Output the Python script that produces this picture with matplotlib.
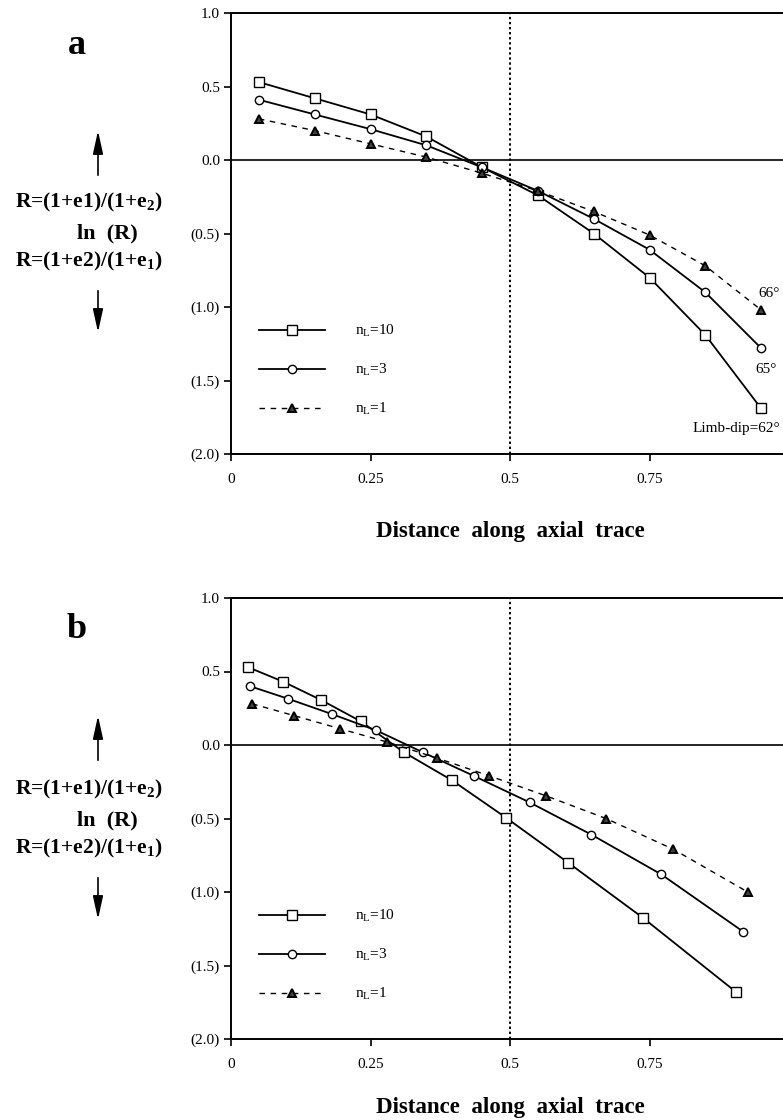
import matplotlib
matplotlib.use("Agg")
import matplotlib.pyplot as plt
from matplotlib.patches import FancyArrowPatch

plt.rcParams['font.family'] = ['Liberation Serif', 'DejaVu Serif']
plt.rcParams['mathtext.fontset'] = 'custom'
plt.rcParams['mathtext.rm'] = 'Liberation Serif'
plt.rcParams['mathtext.it'] = 'Liberation Serif:italic'
plt.rcParams['mathtext.bf'] = 'Liberation Serif:bold'

W, H = 783, 1120

# panel a: evenly spaced stations along the axial trace
dist_a = [0.05, 0.15, 0.25, 0.35, 0.45, 0.55, 0.65, 0.75, 0.85, 0.95]
a_n10 = [0.53, 0.42, 0.31, 0.16, -0.05, -0.24, -0.50, -0.80, -1.19, -1.69]
a_n3 = [0.41, 0.31, 0.21, 0.10, -0.05, -0.21, -0.40, -0.61, -0.90, -1.28]
a_n1 = [0.28, 0.20, 0.11, 0.02, -0.09, -0.21, -0.35, -0.51, -0.72, -1.02]

# panel b: same strains, stations displaced along the trace
b_x_n10 = [0.030, 0.094, 0.162, 0.233, 0.310, 0.396, 0.493, 0.604, 0.738, 0.905]
b_n10 = [0.53, 0.43, 0.305, 0.16, -0.05, -0.24, -0.495, -0.80, -1.175, -1.68]
b_x_n3 = [0.034, 0.102, 0.181, 0.260, 0.344, 0.435, 0.535, 0.646, 0.771, 0.918]
b_n3 = [0.40, 0.315, 0.21, 0.10, -0.05, -0.21, -0.39, -0.61, -0.88, -1.27]
b_x_n1 = [0.038, 0.113, 0.196, 0.280, 0.370, 0.463, 0.564, 0.672, 0.793, 0.926]
b_n1 = [0.28, 0.20, 0.11, 0.02, -0.09, -0.21, -0.345, -0.50, -0.71, -1.00]

series_labels = [r'n$_{\rm L}$=10', r'n$_{\rm L}$=3', r'n$_{\rm L}$=1']
dip_labels = ['66°', '65°', 'Limb-dip=62°']

yticks = [1.0, 0.5, 0.0, -0.5, -1.0, -1.5, -2.0]
ytick_labels = ['1.0', '0.5', '0.0', '(0.5)', '(1.0)', '(1.5)', '(2.0)']
xticks = [0, 0.25, 0.5, 0.75]
xtick_labels = ['0', '0.25', '0.5', '0.75']


def fx(px):
    return px / W


def fy(py):
    return 1 - py / H


def arrow(x, y0, y1):
    fig.add_artist(FancyArrowPatch((fx(x), fy(y0)), (fx(x), fy(y1)),
                                   transform=fig.transFigure,
                                   arrowstyle='-|>,head_length=1.0,head_width=0.22',
                                   mutation_scale=14, color='black', lw=1.2))


def panel(top, bottom, series, letter, dy, xlab_y):
    ax = fig.add_axes([fx(231), fy(bottom), 558 / W, (bottom - top) / H])
    styles = [dict(marker='s', ls='-', lw=1.3, ms=6.5, mfc='white'),
              dict(marker='o', ls='-', lw=1.3, ms=6, mfc='white'),
              dict(marker='^', ls='--', lw=1.0, ms=5.5, mew=1.4,
                   mfc='0.25', dashes=(4, 4))]
    lines = []
    for (xs, ys), st, lab in zip(series, styles, series_labels):
        ln, = ax.plot(xs, ys, color='black', mec='black', label=lab, **st)
        lines.append(ln)
    ax.axhline(0, color='black', lw=1.2, zorder=1)
    ax.axvline(0.5, color='black', lw=1.4, ls=(0, (1.2, 1.4)), zorder=1)
    ax.set_xlim(0, 1)
    ax.set_ylim(-2, 1)
    ax.set_yticks(yticks, ytick_labels)
    ax.set_xticks(xticks, xtick_labels)
    ax.tick_params(direction='out', length=5, width=1.2, labelsize=11,
                   pad=3)
    ax.tick_params(axis='x', pad=9)
    for s in ax.spines.values():
        s.set_linewidth(1.4)

    ax.legend(lines, series_labels, loc='center left',
              bbox_to_anchor=(fx(259), fy(top + 357)),
              bbox_transform=fig.transFigure, frameon=False,
              handlelength=4.3, handletextpad=2.0, labelspacing=1.5,
              borderpad=0, borderaxespad=0, fontsize=11, numpoints=1)

    fig.text(fx(77), fy(top + 32), letter, fontsize=26, fontweight='bold',
             ha='center', va='center')
    arrow(98, top + 165, top + 115)
    fig.text(fx(89), fy(top + 189 + dy), r'R=(1+e1)/(1+e$_{\mathbf{2}}$)',
             fontsize=15.5, fontweight='bold', ha='center', va='center')
    fig.text(fx(107), fy(top + 220 + dy), 'ln  (R)', fontsize=16,
             fontweight='bold', ha='center', va='center')
    fig.text(fx(89), fy(top + 248 + dy), r'R=(1+e2)/(1+e$_{\mathbf{1}}$)',
             fontsize=15.5, fontweight='bold', ha='center', va='center')
    arrow(98, top + 275 + dy, top + 322 + dy)

    fig.text(fx(510), fy(xlab_y), 'Distance  along  axial  trace',
             fontsize=16.5, fontweight='bold', ha='center', va='center')
    return ax


fig = plt.figure(figsize=(W / 100, H / 100), dpi=100)

ax_a = panel(13, 454, [(dist_a, a_n10), (dist_a, a_n3), (dist_a, a_n1)],
             'a', 0, 531)
ax_a.annotate(dip_labels[0], xy=(dist_a[-1], a_n1[-1]), xytext=(8, 16),
              textcoords='offset pixels', ha='center', va='center',
              fontsize=11)
ax_a.annotate(dip_labels[1], xy=(dist_a[-1], a_n3[-1]), xytext=(5, -21),
              textcoords='offset pixels', ha='center', va='center',
              fontsize=11)
ax_a.annotate(dip_labels[2], xy=(dist_a[-1], a_n10[-1]), xytext=(19, -20),
              textcoords='offset pixels', ha='right', va='center',
              fontsize=11)

ax_b = panel(598, 1039, [(b_x_n10, b_n10), (b_x_n3, b_n3), (b_x_n1, b_n1)],
             'b', 2, 1107)

fig.savefig('out.png', dpi=100)
